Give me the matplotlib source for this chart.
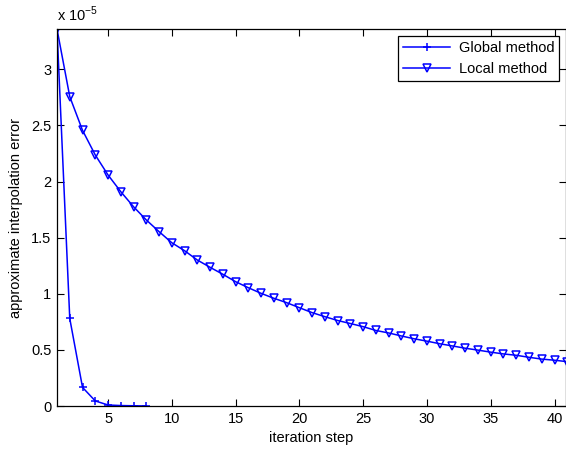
import matplotlib
matplotlib.use("Agg")
import matplotlib.pyplot as plt

plt.rcParams['font.family'] = ['Liberation Sans', 'DejaVu Sans']
plt.rcParams['mathtext.fontset'] = 'custom'
plt.rcParams['mathtext.rm'] = 'Liberation Sans'

# error values in units of 1e-5
global_steps = [1, 2, 3, 4, 5, 6, 7, 8]
global_err = [3.36, 0.78, 0.166, 0.045, 0.009, 0.004, 0.002, 0.0005]

local_steps = list(range(1, 42))
local_err = [3.36, 2.757, 2.457, 2.237, 2.059, 1.910, 1.776, 1.658, 1.554, 1.455,
             1.384, 1.301, 1.236, 1.174, 1.108, 1.054, 1.004, 0.960, 0.921, 0.876,
             0.832, 0.796, 0.762, 0.735, 0.707, 0.673, 0.651, 0.624, 0.599, 0.578,
             0.555, 0.535, 0.515, 0.498, 0.480, 0.464, 0.452, 0.434, 0.418, 0.408,
             0.395]

x_ticks = [5, 10, 15, 20, 25, 30, 35, 40]
y_ticks = [0, 0.5, 1, 1.5, 2, 2.5, 3]

fig = plt.figure(figsize=(5.66, 4.51), dpi=100)
ax = fig.add_axes([57 / 566, 45 / 451, 509 / 566, 377 / 451])

blue = '#0000ff'
ax.plot(global_steps, global_err, color=blue, lw=1.1, marker='+', ms=6,
        mew=1.1, label='Global method')
ax.plot(local_steps, local_err, color=blue, lw=1.1, marker='v', ms=5.2,
        mew=1.1, mfc='none', label='Local method')

ax.set_xlim(1, 40.9)
ax.set_ylim(0, 3.36)
ax.set_xticks(x_ticks)
ax.set_yticks(y_ticks)
ax.set_yticklabels(['0', '0.5', '1', '1.5', '2', '2.5', '3'])
ax.tick_params(direction='in', top=True, right=True, length=5, width=0.8,
               labelsize=10.5, pad=4)
for s in ax.spines.values():
    s.set_linewidth(0.9)

ax.set_xlabel('iteration step', fontsize=10.5, labelpad=4)
ax.set_ylabel('approximate interpolation error', fontsize=10.5, labelpad=6)
ax.text(0, 1.012, r'x 10$^{-5}$', transform=ax.transAxes, fontsize=10.5,
        ha='left', va='bottom')

leg = ax.legend(loc='upper right', fontsize=10.5, frameon=True, fancybox=False,
                edgecolor='black', framealpha=1, borderaxespad=0.45,
                handlelength=3.2, borderpad=0.35, labelspacing=0.5,
                handletextpad=0.6)
leg.get_frame().set_linewidth(0.9)

fig.savefig('out.png', dpi=100)
